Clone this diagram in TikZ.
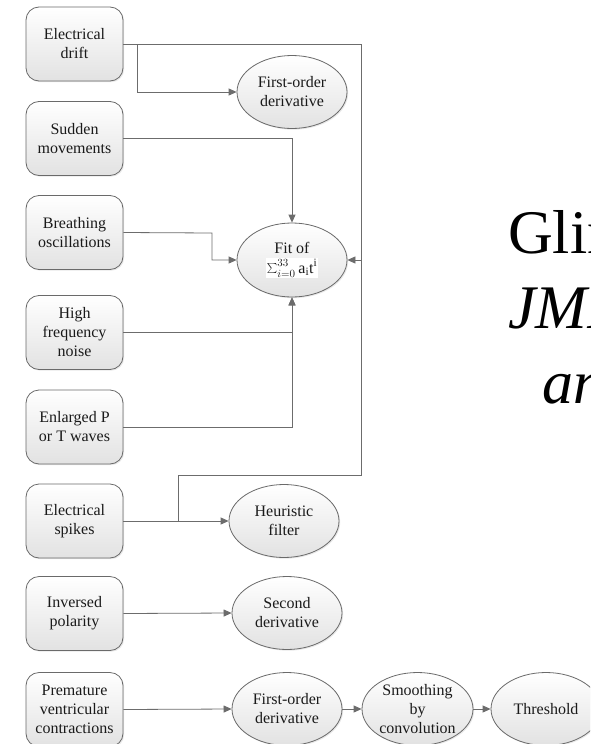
\documentclass[tikz,border=0pt]{standalone}
\usepackage{fontspec}
\setmainfont{Liberation Serif}
\usetikzlibrary{arrows.meta,shapes.geometric,shadows}
\definecolor{linec}{HTML}{6C6C6C}
\definecolor{edgec}{HTML}{6A6A6A}
\definecolor{fillb}{HTML}{E2E2E2}
\definecolor{txtc}{HTML}{1A1A1A}
\tikzset{
  basenode/.style={draw=edgec, line width=0.8pt, top color=white, bottom color=fillb,
    align=center, text=txtc, font=\fontsize{16}{19}\selectfont, inner sep=0pt,
    drop shadow={shadow xshift=1.2pt, shadow yshift=-1.2pt, opacity=0.18}},
  srcbox/.style={basenode, rectangle, rounded corners=13pt, minimum width=97pt, minimum height=74pt},
  proc/.style={basenode, ellipse, minimum width=110pt, minimum height=73pt},
  conn/.style={draw=linec, line width=0.8pt},
  arr/.style={conn, -{Triangle[length=8pt,width=7pt]}},
  bigtxt/.style={anchor=base west, inner sep=0pt, text=black, font=\fontsize{62}{62}\selectfont}
}
\begin{document}
\begin{tikzpicture}[x=1pt, y=-1pt]
\useasboundingbox (0,0) rectangle (590,744);
\clip (0,0) rectangle (590,744);
\fill[white] (0,0) rectangle (590,744);

% source boxes
\node[srcbox] (ed) at (74.5,44)  {Electrical\\drift};
\node[srcbox] (sm) at (74.5,138.5) {Sudden\\movements};
\node[srcbox] (bo) at (74.5,232.5) {Breathing\\oscillations};
\node[srcbox] (hf) at (74.5,332.5) {High\\frequency\\noise};
\node[srcbox] (ep) at (74.5,427) {Enlarged P\\or T waves};
\node[srcbox] (es) at (74.5,521) {Electrical\\spikes};
\node[srcbox] (ip) at (74.5,613.5) {Inversed\\polarity};
\node[srcbox] (pv) at (74.5,709.5) {Premature\\ventricular\\contractions};

% processing ellipses
\node[proc] (fd1) at (292,92) {First-order\\derivative};
\node[proc, minimum height=74pt] (fit) at (292,260) {Fit of\\[1pt]{\setlength\fboxsep{1pt}\colorbox{white}{$\sum_{i=0}^{33}\mathrm{a_i t^i}$}}};
\node[proc] (hfil) at (284,521) {Heuristic\\filter};
\node[proc] (sd) at (287,613) {Second\\derivative};
\node[proc] (fd2) at (287,709) {First-order\\derivative};
\node[proc, minimum width=111pt] (sc) at (417.5,709) {Smoothing\\by\\convolution};
\node[proc] (th) at (546,709) {Threshold};

% helper coordinates
\coordinate (b1) at (137,44);
\coordinate (cA) at (361,44);
\coordinate (cB) at (361,475);
\coordinate (cC) at (178,475);
\coordinate (cD) at (178,521);
\coordinate (cE) at (361,260);
\coordinate (bk) at (212,233);

% connectors
\draw[conn] (ed.east) -- (cA) -- (cB) -- (cC) -- (cD);
\draw[arr] (b1) |- (fd1.west);
\draw[arr] (cE) -- (fit.east);
\draw[arr] (sm.east) -| (fit.north);
\draw[arr] (bo.east) -- (bk) |- (fit.west);
\draw[arr] (hf.east) -| (fit.south);
\draw[arr] (ep.east) -| (fit.south);
\draw[arr] (es.east) -- (hfil.west);
\draw[arr] (ip.east) -- (sd.west);
\draw[arr] (pv.east) -- (fd2.west);
\draw[arr] (fd2.east) -- (sc.west);
\draw[arr] (sc.east) -- (th.west);

% partially visible title text at right
\node[bigtxt] (g1) at (508,253) {Glin};
\node[bigtxt] (g2) at (508,328) {\itshape JMIR};
\node[bigtxt] (g3) at (542,403) {\itshape and};
\end{tikzpicture}
\end{document}
